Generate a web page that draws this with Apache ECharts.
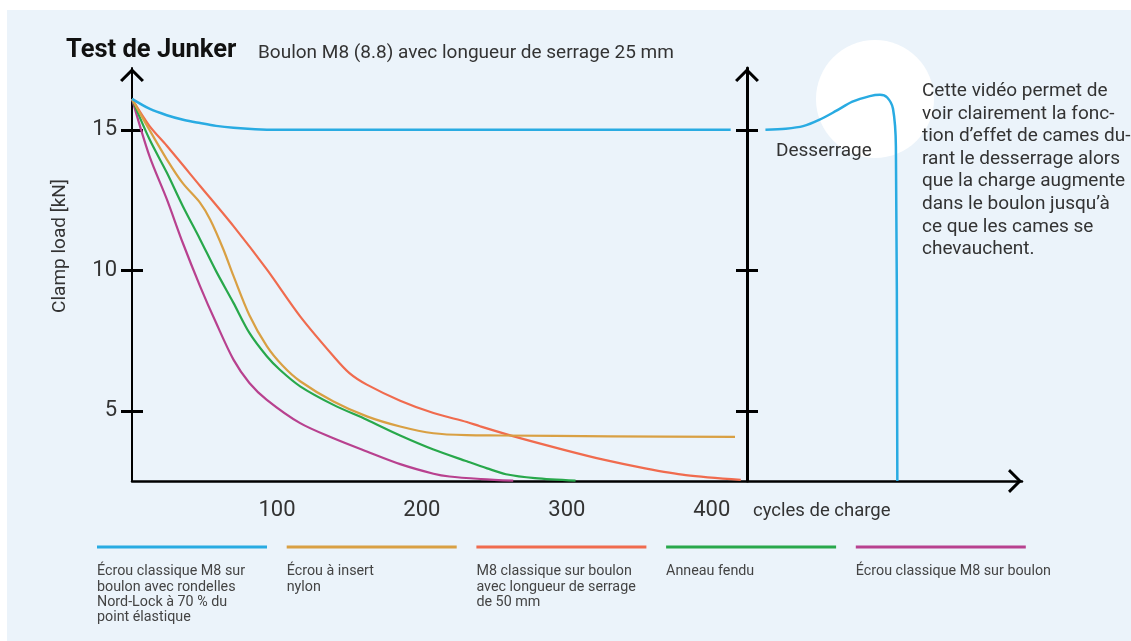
<!DOCTYPE html>
<html>
<head>
<meta charset="utf-8">
<title>Test de Junker</title>
<script src="https://cdn.jsdelivr.net/npm/echarts@6/dist/echarts.min.js"></script>
<style>
  html, body { margin: 0; padding: 0; background: #fff; }
  #chart { width: 1131px; height: 641px; }
</style>
</head>
<body>
<div id="chart"></div>
<script>
// series: [cycles, clamp load kN]
const nordLock = [
  [0, 16.1], [12, 15.75], [24, 15.52], [36, 15.35], [47, 15.24], [58, 15.14], [70, 15.07],
  [85, 15.02], [100, 15.0], [413, 15.0],
  [424, null],
  [437, 15.0], [451, 15.04], [463, 15.13], [474, 15.35], [486, 15.68], [497, 16.0],
  [509, 16.2], [516, 16.25], [521, 16.15], [525, 15.75], [527, 14.4], [528, 2.5]
];
const nylonInsert = [
  [0, 16.1], [12, 15.0], [24, 13.95], [35, 13.1], [47, 12.4], [54, 11.8], [63, 10.75],
  [70, 9.8], [81, 8.4], [93, 7.3], [104, 6.6], [116, 6.05], [139, 5.33], [162, 4.8],
  [185, 4.44], [208, 4.2], [231, 4.13], [254, 4.12], [330, 4.09], [416, 4.07]
];
const clampLength50 = [
  [0, 16.1], [12, 15.14], [24, 14.43], [47, 13.0], [70, 11.57], [93, 10.03], [116, 8.36],
  [139, 6.94], [150, 6.34], [162, 5.93], [185, 5.36], [208, 4.92], [231, 4.6], [240, 4.45],
  [264, 4.08], [298, 3.61], [326, 3.25], [354, 2.95], [382, 2.71], [420, 2.54]
];
const splitRing = [
  [0, 16.1], [12, 14.67], [24, 13.48], [35, 12.29], [47, 11.1], [58, 9.97], [70, 8.84],
  [81, 7.77], [93, 6.94], [102, 6.46], [116, 5.87], [139, 5.21], [162, 4.68], [185, 4.12],
  [208, 3.62], [231, 3.2], [245, 2.95], [258, 2.74], [278, 2.6], [306, 2.51]
];
const plainNut = [
  [0, 16.1], [12, 14.07], [24, 12.53], [35, 10.98], [47, 9.43], [58, 8.13], [70, 6.82],
  [81, 5.99], [93, 5.39], [116, 4.56], [139, 4.02], [162, 3.55], [185, 3.1], [208, 2.76],
  [219, 2.66], [241, 2.57], [263, 2.51]
];

const seriesData = [nordLock, nylonInsert, clampLength50, splitRing, plainNut];
const seriesColors = ['#29abe2', '#d9a043', '#f06b4e', '#28a84b', '#b8418f'];
const seriesWidths = [2.5, 2.2, 2.2, 2.2, 2.2];
const legendLabels = [
  'Écrou classique M8 sur\nboulon avec rondelles\nNord-Lock à 70 % du\npoint élastique',
  'Écrou à insert\nnylon',
  'M8 classique sur boulon\navec longueur de serrage\nde 50 mm',
  'Anneau fendu',
  'Écrou classique M8 sur boulon'
];
const xTicks = [100, 200, 300, 400];
const yTicks = [5, 10, 15];
const introText = 'Cette vidéo permet de\nvoir clairement la fonc-\ntion d’effet de cames du-\nrant le desserrage alors\nque la charge augmente\ndans le boulon jusqu’à\nce que les cames se\nchevauchent.';

const FONT = 'Roboto, "Noto Sans", sans-serif';
const TXT = '#333';
const chevron = 'path://M12,0 L24,12 L21.8,14 L12,4.2 L2.2,14 L0,12 Z';
const X_MIN = 0, X_MAX = 614, Y_MIN = 2.5, Y_MAX = 17.2;
const MID_AXIS_OFFSET = -615;

function yAxisDef(offset, opts) {
  return Object.assign({
    type: 'value', min: Y_MIN, max: Y_MAX, position: 'left', offset: offset,
    splitLine: { show: false },
    axisLine: { show: false },
    axisLabel: { show: false },
    axisTick: { show: true, length: 11, customValues: yTicks, lineStyle: { color: '#000', width: 3 } }
  }, opts);
}

const chart = echarts.init(document.getElementById('chart'));

const graphics = [
  { type: 'rect', z: -10, shape: { x: 7, y: 10, width: 1124, height: 631 }, style: { fill: '#ebf3fa' }, silent: true },
  { type: 'circle', z: -5, shape: { cx: 875, cy: 99, r: 59 }, style: { fill: '#fff' }, silent: true },
  { type: 'text', x: 66, y: 51, style: { text: 'Test de Junker', font: 'bold 25.5px ' + FONT, fill: '#111', verticalAlign: 'middle' } },
  { type: 'text', x: 258, y: 53, style: { text: 'Boulon M8 (8.8) avec longueur de serrage 25 mm', font: '19px ' + FONT, fill: TXT, verticalAlign: 'middle' } },
  { type: 'text', x: 922, y: 80, style: { text: introText, font: '19px ' + FONT, fill: TXT, lineHeight: 22.6, verticalAlign: 'top' } },
  { type: 'text', x: 776, y: 151, style: { text: 'Desserrage', font: '19px ' + FONT, fill: TXT, verticalAlign: 'middle' } },
  { type: 'text', x: 753, y: 511, style: { text: 'cycles de charge', font: '18.5px ' + FONT, fill: TXT, verticalAlign: 'middle' } },
  { type: 'text', x: 60, y: 246, rotation: Math.PI / 2, style: { text: 'Clamp load [kN]', font: '19px ' + FONT, fill: TXT, align: 'center', verticalAlign: 'middle' } }
];

legendLabels.forEach((label, i) => {
  const x0 = 97 + i * 189.7;
  graphics.push({ type: 'rect', shape: { x: x0, y: 545.5, width: 170, height: 3 }, style: { fill: seriesColors[i] }, silent: true });
  graphics.push({ type: 'text', x: x0, y: 564, style: { text: label, font: '14.3px ' + FONT, fill: '#444', lineHeight: 15.3, verticalAlign: 'top' } });
});

chart.setOption({
  animation: false,
  backgroundColor: '#fff',
  grid: { left: 132, right: 109, top: 68, bottom: 160 },
  xAxis: {
    type: 'value', min: X_MIN, max: X_MAX,
    splitLine: { show: false },
    axisLine: {
      lineStyle: { color: '#000', width: 2.5 },
      symbol: ['none', chevron], symbolSize: [24, 14], symbolOffset: [0, -7]
    },
    axisTick: { show: false },
    axisLabel: { customValues: xTicks, margin: 18, fontSize: 22, fontFamily: FONT, color: TXT }
  },
  yAxis: [
    yAxisDef(0, {
      axisLine: {
        show: true, lineStyle: { color: '#000', width: 2 },
        symbol: ['none', chevron], symbolSize: [24, 14], symbolOffset: [0, -7]
      },
      axisLabel: { show: true, customValues: yTicks, margin: 15, fontSize: 22, fontFamily: FONT, color: TXT }
    }),
    yAxisDef(0, { axisTick: { show: true, inside: true, length: 11, customValues: yTicks, lineStyle: { color: '#000', width: 3 } } }),
    yAxisDef(MID_AXIS_OFFSET, {
      axisLine: {
        show: true, lineStyle: { color: '#000', width: 3 },
        symbol: ['none', chevron], symbolSize: [24, 14], symbolOffset: [0, -7]
      }
    }),
    yAxisDef(MID_AXIS_OFFSET, { axisTick: { show: true, inside: true, length: 11, customValues: yTicks, lineStyle: { color: '#000', width: 3 } } })
  ],
  series: seriesData.map((data, i) => ({
    type: 'line',
    data: data,
    yAxisIndex: 0,
    showSymbol: false,
    smooth: 0.3,
    connectNulls: false,
    clip: false,
    z: 5 - i + 2,
    lineStyle: { color: seriesColors[i], width: seriesWidths[i] }
  })),
  graphic: graphics
});
</script>
</body>
</html>
